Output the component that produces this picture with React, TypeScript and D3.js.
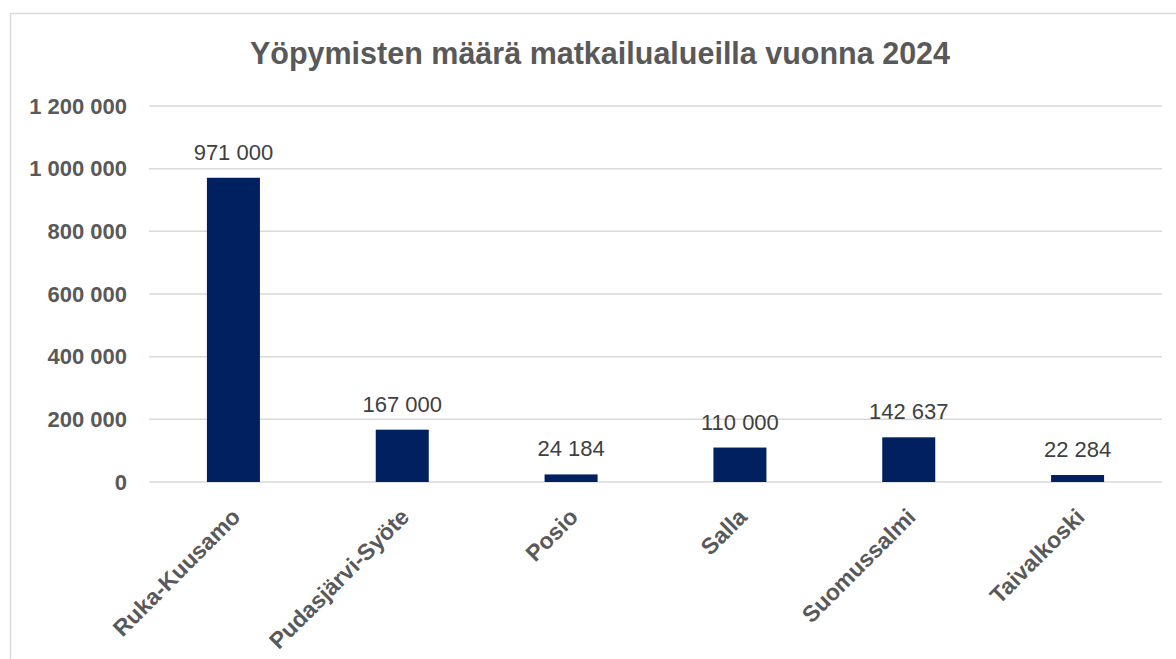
import React from "react";
import * as d3 from "d3";

const categories = [
  "Ruka-Kuusamo",
  "Pudasjärvi-Syöte",
  "Posio",
  "Salla",
  "Suomussalmi",
  "Taivalkoski",
];
const values = [971000, 167000, 24184, 110000, 142637, 22284];
const yTicks = [0, 200000, 400000, 600000, 800000, 1000000, 1200000];

const W = 1176;
const H = 659;
const MARGIN = { left: 149, right: 14, top: 106, bottom: 177 };
const FONT = "'Liberation Sans', Arial, sans-serif";

// Finnish style thousands separator (space)
const fmt = (v: number) => d3.format(",")(v).replace(/,/g, " ");

const App = () => {
  const x = d3
    .scaleBand<string>()
    .domain(categories)
    .range([MARGIN.left, W - MARGIN.right])
    .padding(0);
  const y = d3
    .scaleLinear()
    .domain([0, 1200000])
    .range([H - MARGIN.bottom, MARGIN.top]);

  const barW = x.bandwidth() * 0.314;

  return (
    <svg
      width={W}
      height={H}
      style={{ position: "absolute", left: 0, top: 0, background: "#fff" }}
    >
      <rect
        x={10.5}
        y={13.5}
        width={1200}
        height={700}
        fill="#fff"
        stroke="#d9d9d9"
        strokeWidth={1.5}
      />
      <text
        x={600}
        y={64}
        textAnchor="middle"
        fontFamily={FONT}
        fontWeight="bold"
        fontSize={30.5}
        fill="#595959"
      >
        Yöpymisten määrä matkailualueilla vuonna 2024
      </text>

      {yTicks.map((t) => (
        <g key={t}>
          <line
            x1={MARGIN.left}
            x2={W - MARGIN.right}
            y1={y(t)}
            y2={y(t)}
            stroke="#d9d9d9"
            strokeWidth={1.5}
          />
          <text
            x={127}
            y={y(t) + 7.5}
            textAnchor="end"
            fontFamily={FONT}
            fontWeight="bold"
            fontSize={22}
            fill="#595959"
          >
            {fmt(t)}
          </text>
        </g>
      ))}

      {categories.map((c, i) => {
        const cx = (x(c) as number) + x.bandwidth() / 2;
        return (
          <g key={c}>
            <rect
              x={cx - barW / 2}
              y={y(values[i])}
              width={barW}
              height={y(0) - y(values[i])}
              fill="#002060"
            />
            <text
              x={cx}
              y={y(values[i]) - 18}
              textAnchor="middle"
              fontFamily={FONT}
              fontSize={22}
              fill="#404040"
            >
              {fmt(values[i])}
            </text>
            <text
              transform={`translate(${cx - 3},${y(0) + 25}) rotate(-45)`}
              textAnchor="end"
              dy="0.7em"
              fontFamily={FONT}
              fontWeight="bold"
              fontSize={23}
              fill="#595959"
            >
              {c}
            </text>
          </g>
        );
      })}
    </svg>
  );
};

export default App;
